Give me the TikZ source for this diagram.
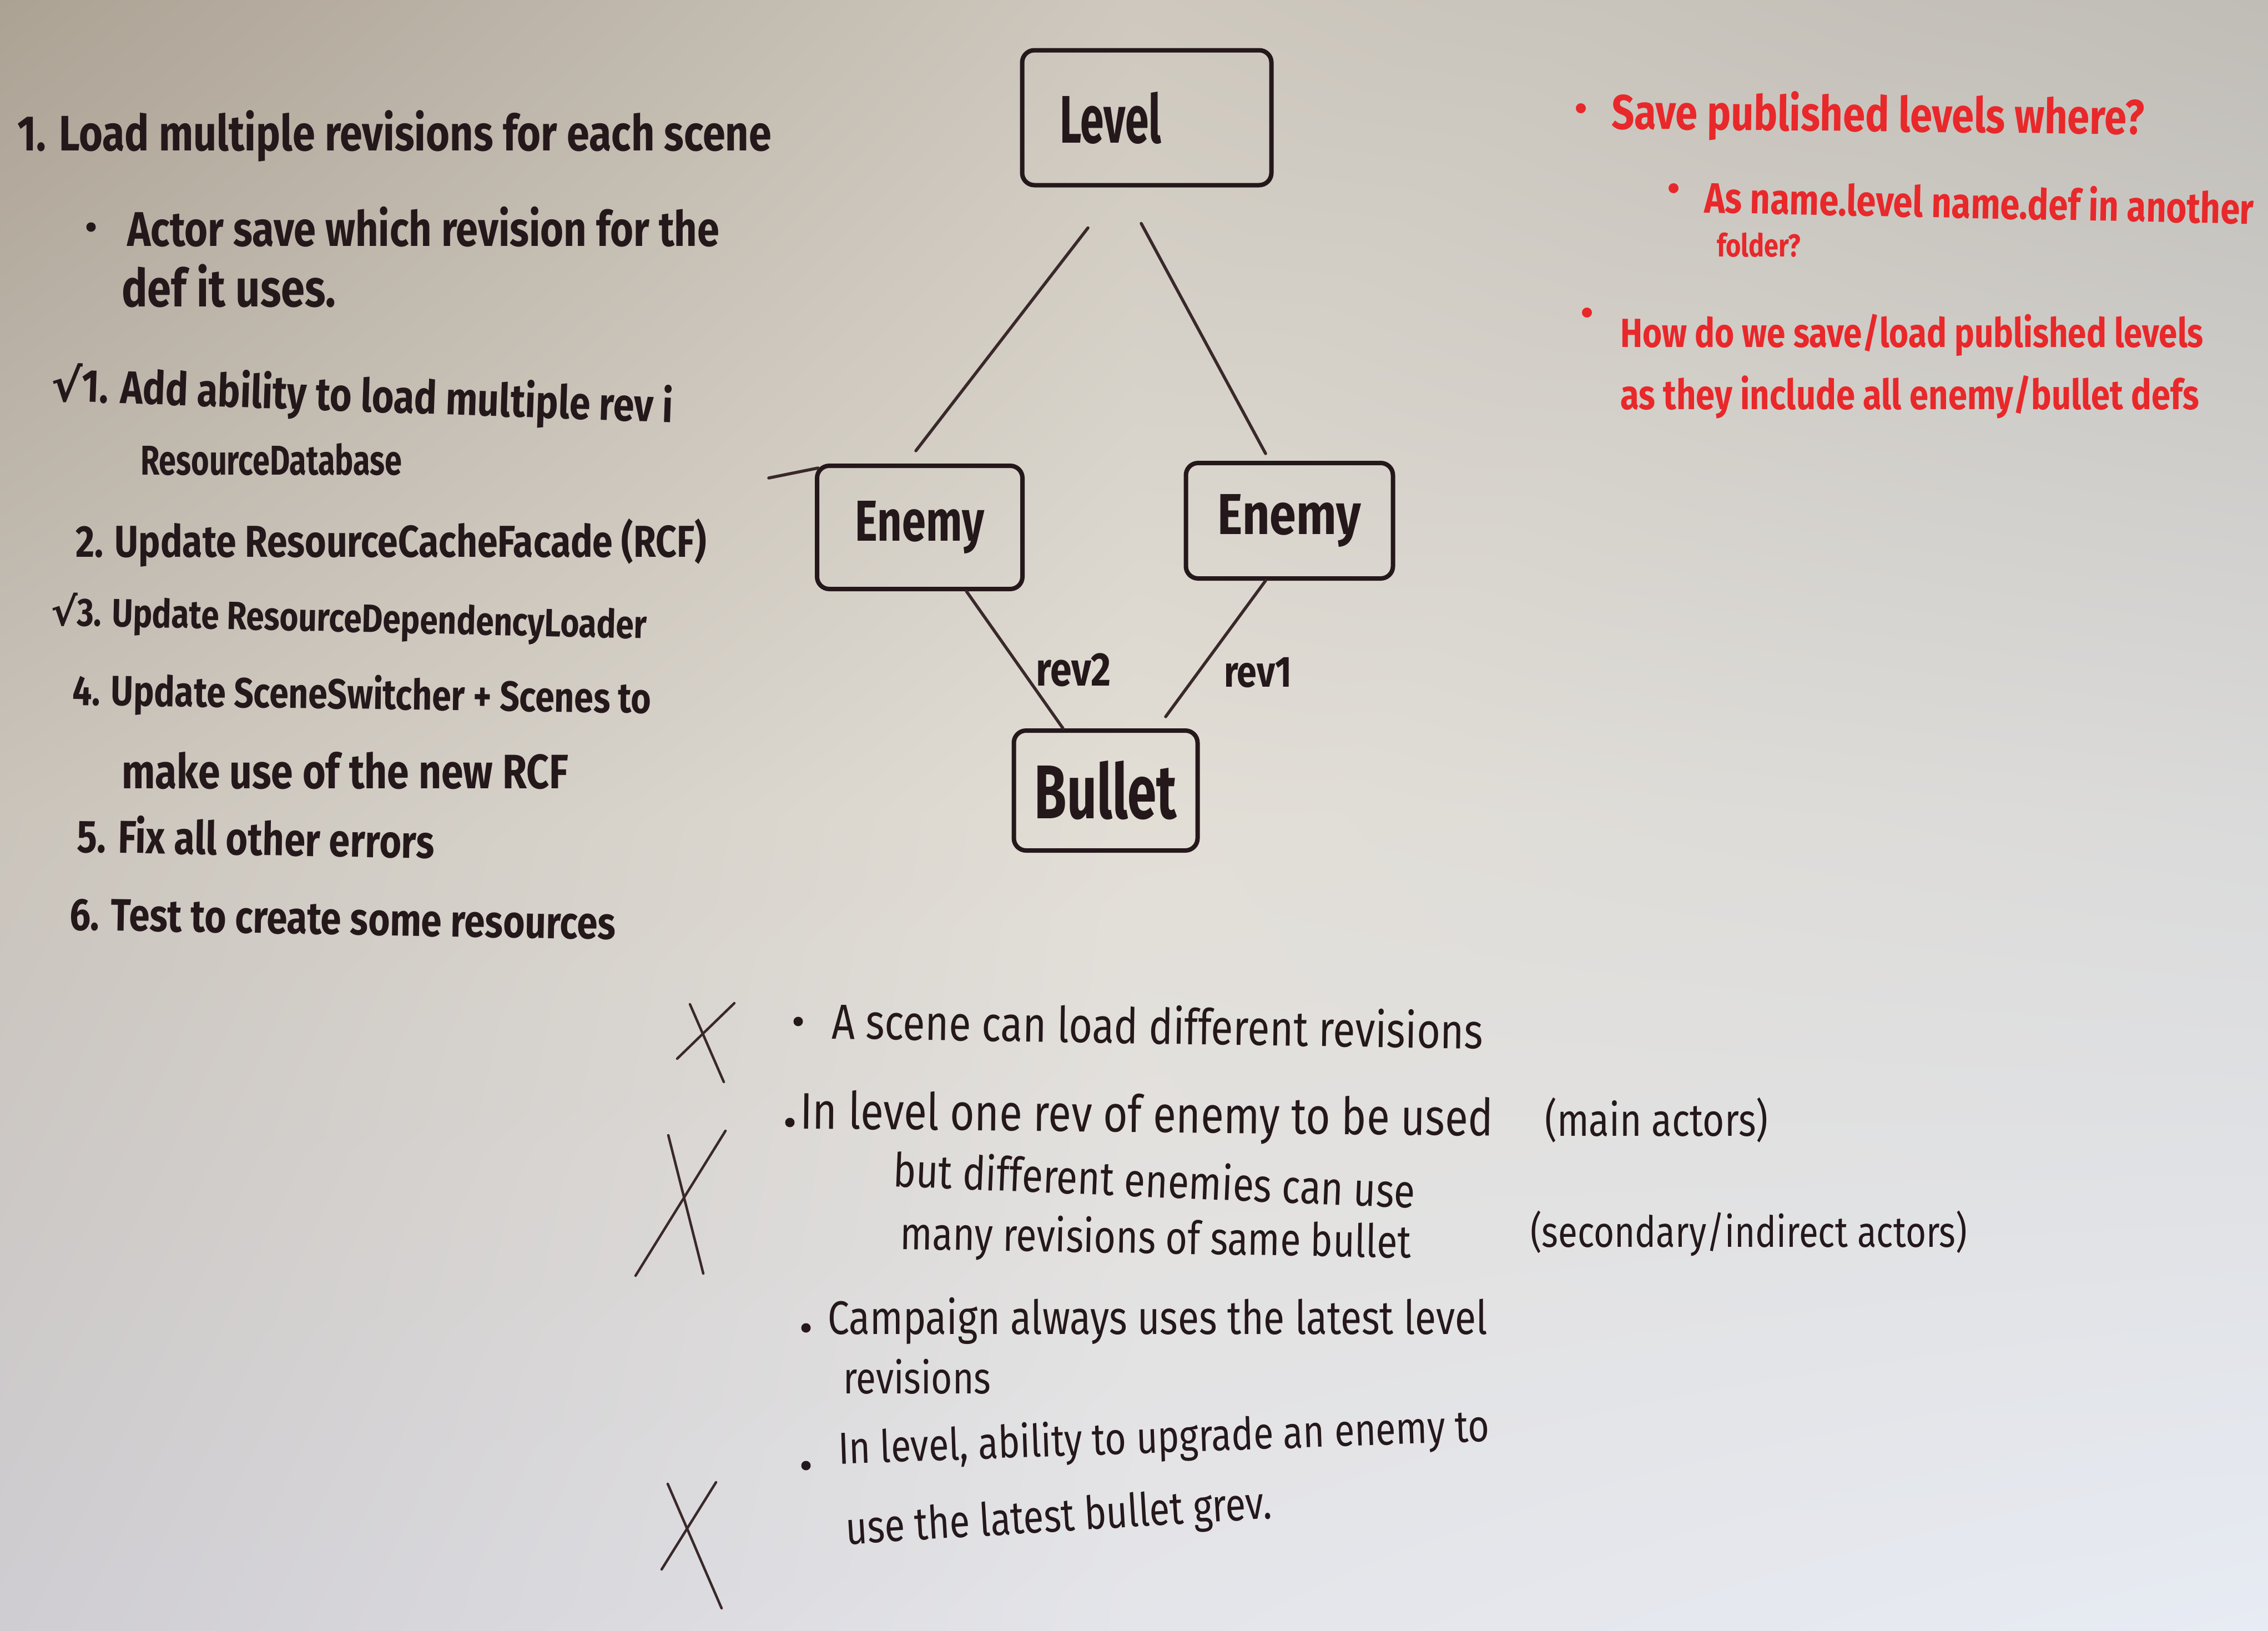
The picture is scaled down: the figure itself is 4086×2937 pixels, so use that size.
\documentclass[tikz,border=0pt]{standalone}
\usepackage{fontspec}
\setmainfont{Fira Sans}[FakeStretch=0.82]
\newfontfamily\symfont{DejaVu Sans}
\usepackage{graphicx}
\usetikzlibrary{calc,shadings}
\definecolor{ink}{RGB}{36,24,27}
\definecolor{lineink}{RGB}{58,40,42}
\definecolor{redink}{RGB}{232,40,42}
\definecolor{cA}{RGB}{172,162,148}
\definecolor{cB}{RGB}{206,200,190}
\definecolor{cC}{RGB}{192,189,183}
\definecolor{cD}{RGB}{202,196,187}
\definecolor{cE}{RGB}{226,222,214}
\definecolor{cF}{RGB}{218,218,218}
\definecolor{cG}{RGB}{207,205,210}
\definecolor{cH}{RGB}{228,229,234}
\definecolor{cI}{RGB}{231,235,243}
\newcommand\hwtext[2]{\resizebox{#1pt}{!}{#2}}
\newcommand\hwbox[3]{\resizebox{#1pt}{#2pt}{#3}}
\begin{document}
\begin{tikzpicture}[x=1pt,y=-1pt,
  box/.style={draw=ink, line width=8pt, rounded corners=22pt, inner sep=0pt, text=ink, font=\bfseries},
  conn/.style={draw=lineink, line width=5.5pt, line cap=round},
  xmark/.style={draw=lineink, line width=4.5pt, line cap=round},
  listtxt/.style={anchor=base west, inner sep=0pt, text=ink, font=\bfseries},
  bottxt/.style={anchor=base west, inner sep=0pt, text=ink},
  redtxt/.style={anchor=base west, inner sep=0pt, text=redink, font=\bfseries},
  dot/.style={circle, fill=ink, inner sep=0pt, minimum size=17pt},
  reddot/.style={circle, fill=redink, inner sep=0pt, minimum size=18pt},
  revlbl/.style={inner sep=0pt, text=ink, font=\bfseries}]
\useasboundingbox (0,0) rectangle (4086,2937);
% whiteboard background (piecewise bilinear)
\shade[upper left=cA, upper right=cB, lower left=cD, lower right=cE] (0,0) rectangle (2044,1469);
\shade[upper left=cB, upper right=cC, lower left=cE, lower right=cF] (2042,0) rectangle (4086,1469);
\shade[upper left=cD, upper right=cE, lower left=cG, lower right=cH] (0,1467) rectangle (2044,2937);
\shade[upper left=cE, upper right=cF, lower left=cH, lower right=cI] (2042,1467) rectangle (4086,2937);

% ---------- left list ----------
\node[listtxt] (l1) at (31,271) {\hwtext{1358}{1. Load multiple revisions for each scene}};
\node[dot] (b1) at (164,409) {};
\node[listtxt] (l2) at (229,443) {\hwtext{1066}{Actor save which revision for the}};
\node[listtxt] (l3) at (219,552) {\hwtext{386}{def it uses.}};
\node[listtxt, rotate=-2] (l4) at (91,722) {\hwtext{1121}{{\symfont √}1. Add ability to load multiple rev i}};
\node[listtxt] (l5) at (253,855) {\hwbox{471}{57}{ResourceDatabase}};
\node[listtxt] (l6) at (136,1003) {\hwtext{1136}{2. Update ResourceCacheFacade (RCF)}};
\node[listtxt, rotate=-1.3] (l7) at (91,1126) {\hwtext{1074}{{\symfont √}3. Update ResourceDependencyLoader}};
\node[listtxt, rotate=-0.8] (l8) at (130,1270) {\hwtext{1043}{4. Update SceneSwitcher + Scenes to}};
\node[listtxt] (l9) at (219,1420) {\hwtext{805}{make use of the new RCF}};
\node[listtxt, rotate=-1] (l10) at (138,1535) {\hwtext{644}{5. Fix all other errors}};
\node[listtxt, rotate=-1] (l11) at (125,1675) {\hwtext{983}{6. Test to create some resources}};

% ---------- diagram ----------
\node[box, minimum width=449pt, minimum height=243pt, text width=313pt, align=left, inner xsep=68pt] (level) at (2066,212) {\hwbox{183}{92}{Level}};
\node[box, minimum width=370pt, minimum height=222pt] (enemyL) at (1657,950) {\hwbox{232}{72}{Enemy}};
\node[box, minimum width=373pt, minimum height=208pt] (enemyR) at (2323,938) {\hwbox{258}{72}{Enemy}};
\node[box, minimum width=331pt, minimum height=216pt] (bullet) at (1992,1424) {\hwbox{256}{104}{Bullet}};

\draw[conn] ($(level.south)+(-106,73)$) -- ($(enemyL.north)+(-7,-23)$);
\draw[conn] ($(level.south)+(-10,65)$) -- ($(enemyR.north)+(-43,-13)$);
\draw[conn] ($(enemyL.south)+(84,0)$) -- ($(bullet.north)+(-77,0)$);
\draw[conn] ($(enemyR.south)+(-43,0)$) -- ($(bullet.north)+(108,-21)$);
\draw[conn] ($(enemyL.north west)+(-83,26)$) -- ($(enemyL.north west)+(6,8)$);

\node[revlbl] (rev2) at (1934,1207) {\hwtext{135}{rev2}};
\node[revlbl] (rev1) at (2266,1212) {\hwtext{122}{rev1}};

% ---------- red notes ----------
\node[reddot] (r1) at (2848,195) {};
\node[redtxt, rotate=-0.6] (rt1) at (2903,232) {\hwtext{959}{Save published levels where?}};
\node[reddot] (r2) at (3015,339) {};
\node[redtxt, rotate=-1.2] (rt2) at (3070,383) {\hwtext{990}{As name.level name.def in another}};
\node[redtxt] (rt3) at (3093,462) {\hwtext{151}{folder?}};
\node[reddot] (r3) at (2859,563) {};
\node[redtxt] (rt4) at (2919,625) {\hwtext{1050}{How do we save/load published levels}};
\node[redtxt] (rt5) at (2919,737) {\hwtext{1042}{as they include all enemy/bullet defs}};

% ---------- bottom notes ----------
\draw[xmark] (1243,1809) -- (1304,1949);
\draw[xmark] (1323,1807) -- (1220,1907);
\node[dot] (bb1) at (1438,1840) {};
\node[bottxt, rotate=-0.9] (bt1) at (1498,1871) {\hwtext{1173}{A scene can load different revisions}};

\draw[xmark] (1307,2037) -- (1145,2298);
\draw[xmark] (1204,2045) -- (1267,2294);
\node[dot] (bb2) at (1423,2022) {};
\node[bottxt, rotate=-0.6] (bt2) at (1441,2033) {\hwtext{1248}{In level one rev of enemy to be used}};
\node[bottxt] (bt3) at (2783,2046) {\hwtext{402}{(main actors)}};
\node[bottxt, rotate=-2.4] (bt4) at (1608,2137) {\hwtext{941}{but different enemies can use}};
\node[bottxt, rotate=-1] (bt5) at (1621,2250) {\hwtext{920}{many revisions of same bullet}};
\node[bottxt] (bt6) at (2757,2246) {\hwtext{787}{(secondary/indirect actors)}};

\node[dot] (bb3) at (1452,2392) {};
\node[bottxt] (bt7) at (1491,2403) {\hwtext{1188}{Campaign always uses the latest level}};
\node[bottxt] (bt8) at (1519,2510) {\hwtext{266}{revisions}};

\draw[xmark] (1290,2670) -- (1192,2827);
\draw[xmark] (1203,2673) -- (1300,2897);
\node[dot] (bb4) at (1452,2640) {};
\node[bottxt, rotate=2] (bt9) at (1511,2637) {\hwtext{1173}{In level, ability to upgrade an enemy to}};
\node[bottxt, rotate=3.5] (bt10) at (1525,2782) {\hwbox{768}{62}{use the latest bullet grev.}};
\end{tikzpicture}
\end{document}
